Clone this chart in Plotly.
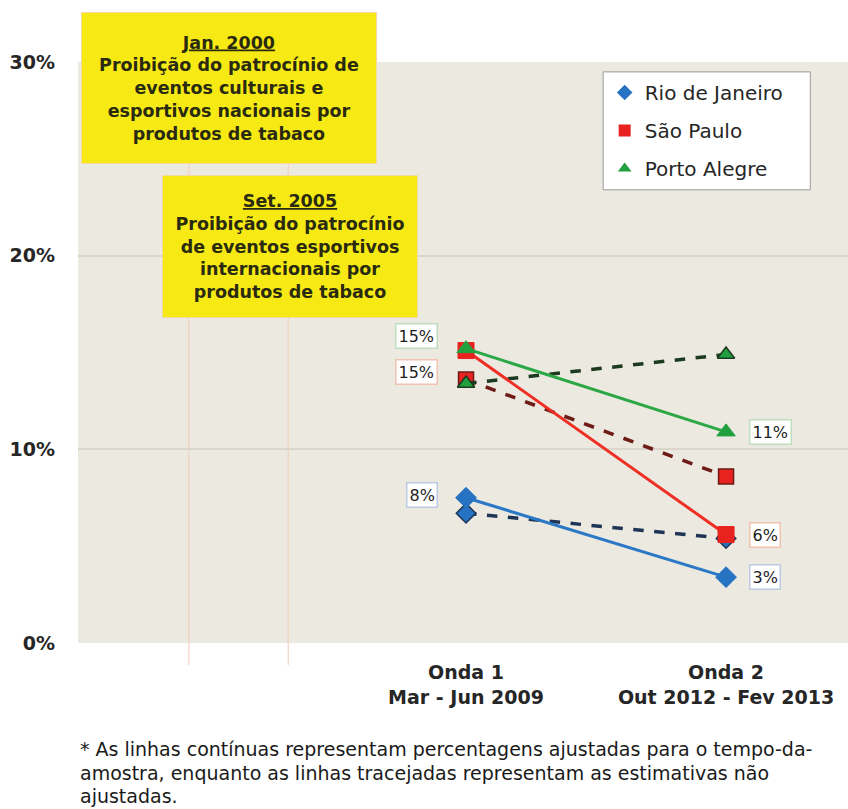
import plotly.graph_objects as go

# Survey waves and their axis labels
waves = [1, 2]
wave_labels = ["<b>Onda 1</b><br><b>Mar - Jun 2009</b>", "<b>Onda 2</b><br><b>Out 2012 - Fev 2013</b>"]

cities = ["Rio de Janeiro", "São Paulo", "Porto Alegre"]

# Adjusted percentages (solid lines)
adjusted = {
    "Rio de Janeiro": [7.5, 3.4],
    "São Paulo": [15.1, 5.6],
    "Porto Alegre": [15.2, 10.9],
}
# Unadjusted estimates (dashed lines)
unadjusted = {
    "Rio de Janeiro": [6.7, 5.4],
    "São Paulo": [13.6, 8.6],
    "Porto Alegre": [13.4, 14.9],
}

y_ticks = [0, 10, 20, 30]

# Event boxes text
event_2000 = ("<u>Jan. 2000</u><br>Proibição do patrocínio de<br>eventos culturais e<br>"
              "esportivos nacionais por<br>produtos de tabaco")
event_2005 = ("<u>Set. 2005</u><br>Proibição do patrocínio<br>de eventos esportivos<br>"
              "internacionais por<br>produtos de tabaco")
footnote_lines = [
    "* As linhas contínuas representam percentagens ajustadas para o tempo-da-",
    "amostra, enquanto as linhas tracejadas representam as estimativas não",
    "ajustadas.",
]

style = {
    "Rio de Janeiro": dict(solid="#2A78C6", dash="#1F3556", symbol="diamond",
                           fill="#2573C2", border="#BCCBE3"),
    "São Paulo": dict(solid="#EF2E24", dash="#6E1A16", symbol="square",
                      fill="#E8221E", border="#F2C2B0"),
    "Porto Alegre": dict(solid="#2BA845", dash="#1C3A20", symbol="triangle-up",
                         fill="#22A040", border="#BFDDBF"),
}

FONT = "DejaVu Sans"
TXT = "#262626"

fig = go.Figure()

for c in cities:
    s = style[c]
    fig.add_trace(go.Scatter(
        x=waves, y=unadjusted[c], mode="lines+markers", showlegend=False,
        line=dict(color=s["dash"], width=3.5, dash="dash"),
        marker=dict(symbol=s["symbol"], size=15, color=s["fill"],
                    line=dict(color=s["dash"], width=1.5)),
        hoverinfo="skip"))

for c in cities:
    s = style[c]
    fig.add_trace(go.Scatter(
        x=waves, y=adjusted[c], mode="lines+markers", showlegend=False,
        line=dict(color=s["solid"], width=3),
        marker=dict(symbol=s["symbol"], size=16, color=s["fill"],
                    line=dict(color=s["fill"], width=1)),
        hoverinfo="skip"))

# Legend entries: markers only
for c in cities:
    s = style[c]
    fig.add_trace(go.Scatter(
        x=[None], y=[None], mode="markers", name=c, legendgroup=c,
        marker=dict(symbol=s["symbol"], size=11, color=s["fill"])))

# Value labels for the adjusted series
label_shift = {
    ("Porto Alegre", 0): 13, ("São Paulo", 0): -21, ("Rio de Janeiro", 0): 3,
    ("Porto Alegre", 1): 0, ("São Paulo", 1): 0, ("Rio de Janeiro", 1): 0,
}
for c in cities:
    s = style[c]
    for i, (xv, yv) in enumerate(zip(waves, adjusted[c])):
        fig.add_annotation(
            x=xv, y=yv, xref="x", yref="y", text=f"{round(yv)}%",
            showarrow=False, xanchor="right" if i == 0 else "left",
            xshift=-28 if i == 0 else 23, yshift=label_shift[(c, i)],
            bgcolor="white", bordercolor=s["border"], borderwidth=1.5, borderpad=2,
            font=dict(family=FONT, size=16, color="#1E1E1E"))

# Event boxes
box_font = dict(family=FONT, size=17.5, color="#2A2A10", weight="bold")
fig.add_annotation(
    x=0.196, y=0.955, xref="paper", yref="paper", xanchor="center", yanchor="middle",
    text=event_2000, showarrow=False,
    width=292, height=148, align="center", valign="middle",
    bgcolor="#F7EA14", bordercolor="#F3D9A6", borderwidth=1, font=box_font)
fig.add_annotation(
    x=0.275, y=0.683, xref="paper", yref="paper", xanchor="center", yanchor="middle",
    text=event_2005, showarrow=False,
    width=252, height=139, align="center", valign="middle",
    bgcolor="#F7EA14", bordercolor="#F3D9A6", borderwidth=1, font=box_font)

# Footnote, one line per annotation for tight line spacing
for k, line in enumerate(footnote_lines):
    fig.add_annotation(
        x=0.0, y=-0.183 - k * 0.040, xref="paper", yref="paper", text=line,
        showarrow=False, xanchor="left", yanchor="middle", align="left",
        font=dict(family=FONT, size=19, color="#1A1A1A"))

# Event marker lines
for xp in [0.144, 0.273]:
    fig.add_shape(type="line", xref="paper", yref="paper", x0=xp, x1=xp, y0=-0.038, y1=1,
                  line=dict(color="#F2CDB8", width=1), layer="below")

# Legend frame (wider than the legend's own box)
fig.add_shape(type="rect", xref="paper", yref="paper", x0=0.682, x1=0.951, y0=0.780, y1=0.983,
              fillcolor="white", line=dict(color="#9A9A9A", width=1), layer="above")

fig.update_layout(
    width=848, height=809,
    margin=dict(l=78, r=0, t=62, b=166),
    paper_bgcolor="white", plot_bgcolor="#ECE9E0",
    font=dict(family=FONT, color=TXT),
    legend=dict(x=0.684, y=0.981, xanchor="left", yanchor="top",
                bgcolor="rgba(0,0,0,0)", borderwidth=0,
                font=dict(family=FONT, size=20, color=TXT),
                tracegroupgap=9, itemsizing="constant"),
    xaxis=dict(range=[-0.4923, 2.469], tickvals=waves, ticktext=wave_labels,
               showgrid=False, zeroline=False, showline=False, ticks="",
               ticklabelstandoff=16,
               tickfont=dict(family=FONT, size=19, color=TXT)),
    yaxis=dict(range=[0, 30], tickvals=y_ticks, ticktext=[f"<b>{v}%</b>" for v in y_ticks],
               showgrid=True, gridcolor="#DAD6CC", gridwidth=1.5, zeroline=False,
               showline=False, ticks="", ticklabelstandoff=22,
               tickfont=dict(family=FONT, size=19, color=TXT)),
)

fig.write_html("out.html")
